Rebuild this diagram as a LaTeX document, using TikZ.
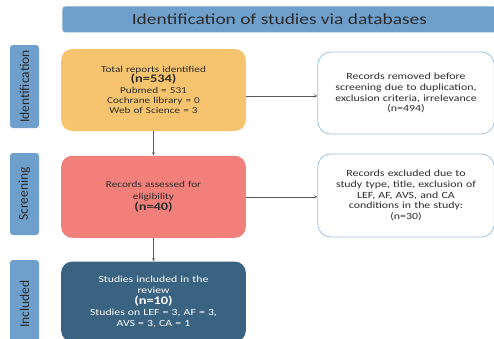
\documentclass[tikz,border=0pt]{standalone}
\usepackage{fontspec}
\setmainfont{Carlito}
\newfontfamily\widefont{Carlito}[FakeStretch=1.25]
\usetikzlibrary{positioning}

\definecolor{barblue}{HTML}{6FA0CC}
\definecolor{idorange}{HTML}{F6C46E}
\definecolor{scrred}{HTML}{F2807A}
\definecolor{incnavy}{HTML}{3A6381}
\definecolor{edgeblue}{HTML}{9DC3E6}
\definecolor{inkdark}{HTML}{2B2B2B}

\begin{document}
\begin{tikzpicture}[x=1pt,y=-1pt,node distance=24pt,>=stealth,thick]
        \useasboundingbox (0,0) rectangle (494,338);
        \node (title) [fill=barblue, rectangle, rounded corners=3pt, anchor=north west, minimum width=434pt, minimum height=26pt, text=inkdark] at (62,6) {\widefont\fontsize{15.5}{17}\selectfont Identification of studies via databases};

        \node (ident) [fill=idorange, rectangle, rounded corners=11pt, minimum width=183pt, minimum height=82pt, text width=178pt, align=center, text=inkdark, font=\widefont\fontsize{9}{10.2}\selectfont] at (153.5,90) {Total reports identified\\ {\fontsize{11.5}{12}\selectfont\bfseries (n=534)}\\ Pubmed = 531\\ Cochrane library = 0\\ Web of Science = 3};
        \node (screen) [fill=scrred, rectangle, rounded corners=11pt, below=of ident, minimum width=183pt, minimum height=82pt, text width=178pt, align=center, text=inkdark, font=\widefont\fontsize{9}{11.5}\selectfont] {Records assessed for\\ eligibility\\ {\fontsize{11.5}{12}\selectfont\bfseries (n=40)}};
        \node (incl) [fill=incnavy, rectangle, rounded corners=11pt, below=23pt of screen, minimum width=183pt, minimum height=80pt, text width=178pt, align=center, text=white, font=\widefont\fontsize{9.4}{11}\selectfont] {Studies included in the\\ review\\ {\fontsize{11.5}{12}\selectfont\bfseries (n=10)}\\ Studies on LEF = 3, AF = 3,\\ AVS = 3, CA = 1};

        \node (removed) [draw=edgeblue, fill=white, rectangle, rounded corners=13pt, minimum width=175pt, minimum height=82pt, text width=170pt, align=center, text=inkdark, font=\widefont\fontsize{9.5}{10.8}\selectfont] at (406,93) {Records removed before\\ screening due to duplication,\\ exclusion criteria, irrelevance\\ (n=494)};
        \node (excluded) [draw=edgeblue, fill=white, rectangle, rounded corners=13pt, minimum width=175pt, minimum height=83pt, text width=170pt, align=center, text=inkdark, font=\widefont\fontsize{9.5}{10.8}\selectfont] at (406,195.5) {Records excluded due to\\ study type, title, exclusion of\\ LEF, AF, AVS, and CA\\ conditions in the study:\\ (n=30)};

        \node (identlab) [fill=barblue, rectangle, rounded corners=3pt, rotate=90, minimum width=83pt, minimum height=29pt, text=inkdark, font=\fontsize{13.5}{15}\selectfont] at (24.5,86.5) {Identification};
        \node (screenlab) [fill=barblue, rectangle, rounded corners=3pt, rotate=90, minimum width=82pt, minimum height=29pt, text=inkdark, font=\fontsize{13.5}{15}\selectfont] at (24.5,194) {Screening};
        \node (incllab) [fill=barblue, rectangle, rounded corners=3pt, rotate=90, minimum width=88pt, minimum height=29pt, text=inkdark, font=\fontsize{13.5}{15}\selectfont] at (24.5,304) {Included};

        \draw[->, thin, draw=black!65] (ident) -- (screen);
        \draw[->, thin, draw=black!65] (screen) -- (incl);
        \draw[->, thin, draw=black!65] ([yshift=-6pt]ident.east) -- ([yshift=-6pt]ident.east -| removed.west);
        \draw[->, thin, draw=black!65] (screen.east) -- (screen.east -| excluded.west);
    \end{tikzpicture}
\end{document}
